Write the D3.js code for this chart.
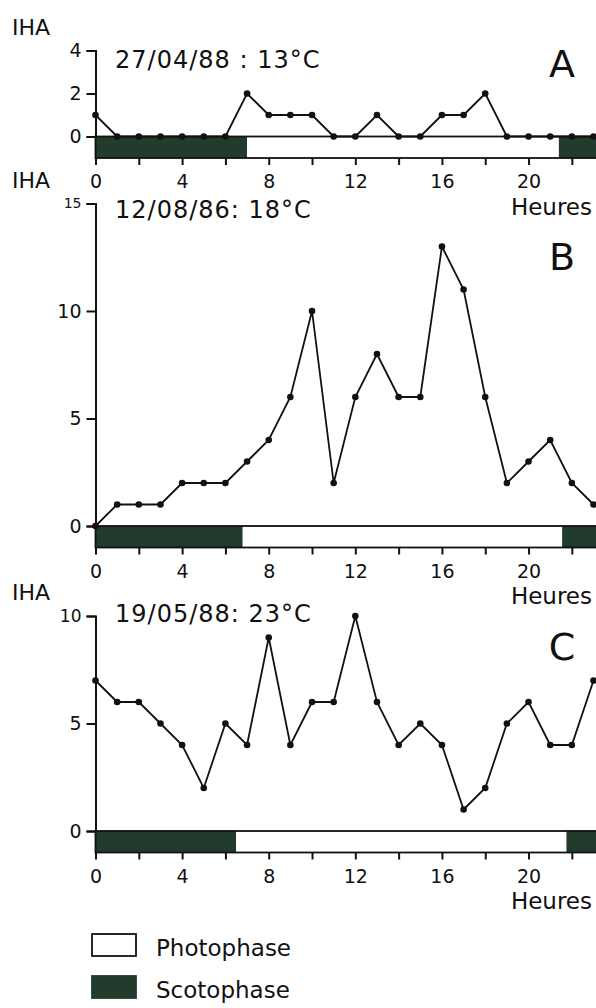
<!DOCTYPE html>
<html>
<head>
<meta charset="utf-8">
<script src="https://cdn.jsdelivr.net/npm/d3@7"></script>
<style>
  body { margin: 0; background: #fff; }
  svg { display: block; font-family: "DejaVu Sans", sans-serif; }
</style>
</head>
<body>
<div id="chart"></div>
<script>
// data
const hours = [0, 1, 2, 3, 4, 5, 6, 7, 8, 9, 10, 11, 12, 13, 14, 15, 16, 17, 18, 19, 20, 21, 22, 23];
const ihaA = [1, 0, 0, 0, 0, 0, 0, 2, 1, 1, 1, 0, 0, 1, 0, 0, 1, 1, 2, 0, 0, 0, 0, 0];
const ihaB = [0, 1, 1, 1, 2, 2, 2, 3, 4, 6, 10, 2, 6, 8, 6, 6, 13, 11, 6, 2, 3, 4, 2, 1];
const ihaC = [7, 6, 6, 5, 4, 2, 5, 4, 9, 4, 6, 6, 10, 6, 4, 5, 4, 1, 2, 5, 6, 4, 4, 7];
const titles = ["27/04/88 : 13°C", "12/08/86: 18°C", "19/05/88: 23°C"];
const letters = ["A", "B", "C"];
const yMax = [4, 15, 10];
const yTicks = [[0, 2, 4], [0, 5, 10, 15], [0, 5, 10]];
const xTicks = [0, 2, 4, 6, 8, 10, 12, 14, 16, 18, 20, 22];
const xLabels = [0, 4, 8, 12, 16, 20];
// light on / light off (hours)
const lightsOn = [7, 6.8, 6.5];
const lightsOff = [21.4, 21.55, 21.75];
const hourEnd = 23.2;
const legendItems = ["Photophase", "Scotophase"];

const width = 596,
  height = 1008;
const dark = "#213c2d";
const unit = 21.5; // px per IHA unit
const zeroY = [136.5, 526, 831];
const titleY = [68, 218, 622];
const letterY = [77, 270, 660];
const topTickSize = [19, 14, 17];
const series = [ihaA, ihaB, ihaC];

const svg = d3
  .select("#chart")
  .append("svg")
  .attr("width", width)
  .attr("height", height)
  .attr("viewBox", [0, 0, width, height]);

const x = d3.scaleLinear([0, 23], [95.5, 593.5]);

series.forEach((values, p) => {
  const y0 = zeroY[p];
  const y = d3.scaleLinear([0, yMax[p]], [y0, y0 - yMax[p] * unit]);
  const g = svg.append("g");

  // light regime bar
  const phases = [
    { from: 0, to: lightsOn[p], fill: dark },
    { from: lightsOn[p], to: lightsOff[p], fill: "#fff" },
    { from: lightsOff[p], to: hourEnd, fill: dark },
  ];
  g.append("g")
    .selectAll("rect")
    .data(phases)
    .join("rect")
    .attr("x", (d) => x(d.from))
    .attr("y", y0)
    .attr("width", (d) => x(d.to) - x(d.from))
    .attr("height", unit)
    .attr("fill", (d) => d.fill);
  g.append("rect")
    .attr("x", x(0))
    .attr("y", y0)
    .attr("width", x(hourEnd) - x(0))
    .attr("height", unit)
    .attr("fill", "none")
    .attr("stroke", "#111")
    .attr("stroke-width", 1.8);

  // x axis
  g.append("g")
    .attr("transform", `translate(0,${y0 + unit})`)
    .call(
      d3
        .axisBottom(x)
        .tickValues(xTicks)
        .tickSize(7)
        .tickPadding(10)
        .tickFormat((d) => (xLabels.includes(d) ? d : ""))
    )
    .call((g) => g.select(".domain").remove())
    .call((g) => g.selectAll(".tick line").attr("stroke", "#111").attr("stroke-width", 2))
    .call((g) =>
      g
        .selectAll(".tick text")
        .attr("font-size", 19)
        .attr("font-family", "DejaVu Sans")
        .attr("fill", "#111")
    );

  // y axis
  g.append("g")
    .attr("transform", `translate(${x(0)},0)`)
    .call(
      d3
        .axisLeft(y)
        .tickValues(yTicks[p])
        .tickSize(9)
        .tickPadding(5)
        .tickFormat(d3.format("d"))
    )
    .call((g) => g.selectAll("path, line").attr("stroke", "#111").attr("stroke-width", 2))
    .call((g) =>
      g
        .selectAll(".tick text")
        .attr("font-size", (d) => (d === yMax[p] ? topTickSize[p] : 19))
        .attr("font-family", "DejaVu Sans")
        .attr("fill", "#111")
    );

  // series line + dots
  const line = d3
    .line()
    .x((d, i) => x(hours[i]))
    .y((d) => y(d));
  g.append("path")
    .datum(values)
    .attr("fill", "none")
    .attr("stroke", "#111")
    .attr("stroke-width", 1.8)
    .attr("d", line);
  g.append("g")
    .selectAll("circle")
    .data(values)
    .join("circle")
    .attr("cx", (d, i) => x(hours[i]))
    .attr("cy", (d) => y(d))
    .attr("r", 3.3)
    .attr("fill", "#111");

  // labels
  g.append("text")
    .attr("x", 12)
    .attr("y", y(yMax[p]) - 16)
    .attr("font-size", 22)
    .attr("fill", "#111")
    .text("IHA");
  g.append("text")
    .attr("x", 115)
    .attr("y", titleY[p])
    .attr("font-size", 24)
    .attr("letter-spacing", 1)
    .attr("fill", "#111")
    .text(titles[p]);
  g.append("text")
    .attr("x", 562)
    .attr("y", letterY[p])
    .attr("text-anchor", "middle")
    .attr("font-size", 38)
    .attr("fill", "#111")
    .text(letters[p]);
  g.append("text")
    .attr("x", 592)
    .attr("y", y0 + 78)
    .attr("text-anchor", "end")
    .attr("font-size", 23)
    .attr("fill", "#111")
    .text("Heures");
});

// legend
const legend = svg
  .append("g")
  .selectAll("g")
  .data(legendItems)
  .join("g")
  .attr("transform", (d, i) => `translate(92,${934 + i * 42})`);
legend
  .append("rect")
  .attr("width", 44)
  .attr("height", 22)
  .attr("fill", (d, i) => (i === 0 ? "#fff" : dark))
  .attr("stroke", (d, i) => (i === 0 ? "#111" : dark))
  .attr("stroke-width", 1.8);
legend
  .append("text")
  .attr("x", 64)
  .attr("y", 22)
  .attr("font-size", 23)
  .attr("fill", "#111")
  .text((d) => d);
</script>
</body>
</html>
